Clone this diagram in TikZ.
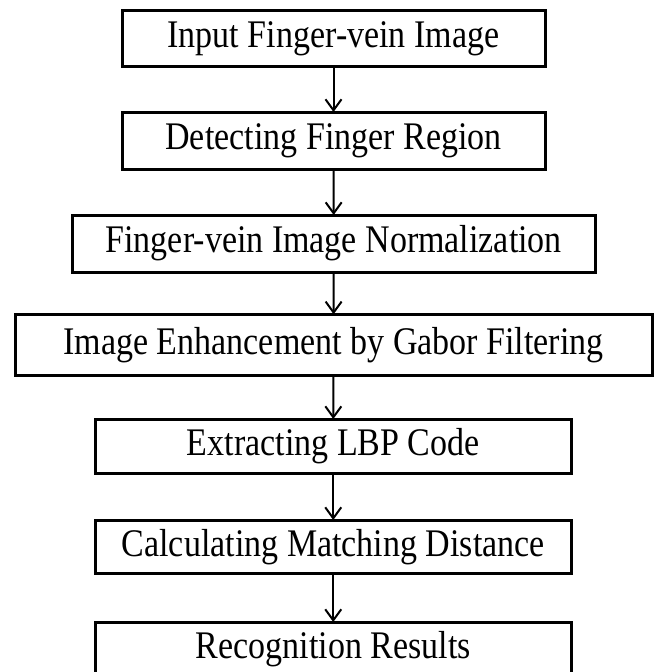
\documentclass[tikz,border=0pt]{standalone}
\usepackage{fontspec}
\usepackage{graphicx}
\setmainfont{Liberation Serif}
\usetikzlibrary{arrows.meta}
\newcommand{\steptext}[1]{\scalebox{1}[1.15]{#1}}
\begin{document}
\begin{tikzpicture}[x=1pt,y=-1pt,
  stepbox/.style={draw=black, line width=3pt, inner sep=0pt, outer sep=0pt,
    font=\fontsize{34}{40}\selectfont, anchor=center},
  flow/.style={line width=2pt, -{Straight Barb[length=11pt,width=16pt,line width=2pt]}}]
\useasboundingbox (0,0) rectangle (654,672);
\fill[white] (0,0) rectangle (654,672);
\node[stepbox, minimum width=423pt, minimum height=56pt] (b1) at (333.5,38.5) {\steptext{Input Finger-vein Image}};
\node[stepbox, minimum width=423pt, minimum height=57pt] (b2) at (333.5,140.5) {\steptext{Detecting Finger Region}};
\node[stepbox, minimum width=522.5pt, minimum height=57pt] (b3) at (333.75,243.5) {\steptext{Finger-vein Image Normalization}};
\node[stepbox, minimum width=637pt, minimum height=61pt] (b4) at (333.5,344.75) {\steptext{Image Enhancement by Gabor Filtering}};
\node[stepbox, minimum width=476.5pt, minimum height=54pt] (b5) at (333.25,446) {\steptext{Extracting LBP Code}};
\node[stepbox, minimum width=476.5pt, minimum height=53.5pt] (b6) at (333.25,546.75) {\steptext{Calculating Matching Distance}};
\node[stepbox, minimum width=476.5pt, minimum height=55pt] (b7) at (333.25,649.5) {\steptext{Recognition Results}};
\draw[flow] (b1) -- (b2);
\draw[flow] (b2) -- (b3);
\draw[flow] (b3) -- (b4);
\draw[flow] (b4) -- (b5);
\draw[flow] (b5) -- (b6);
\draw[flow] (b6) -- (b7);
\end{tikzpicture}
\end{document}
